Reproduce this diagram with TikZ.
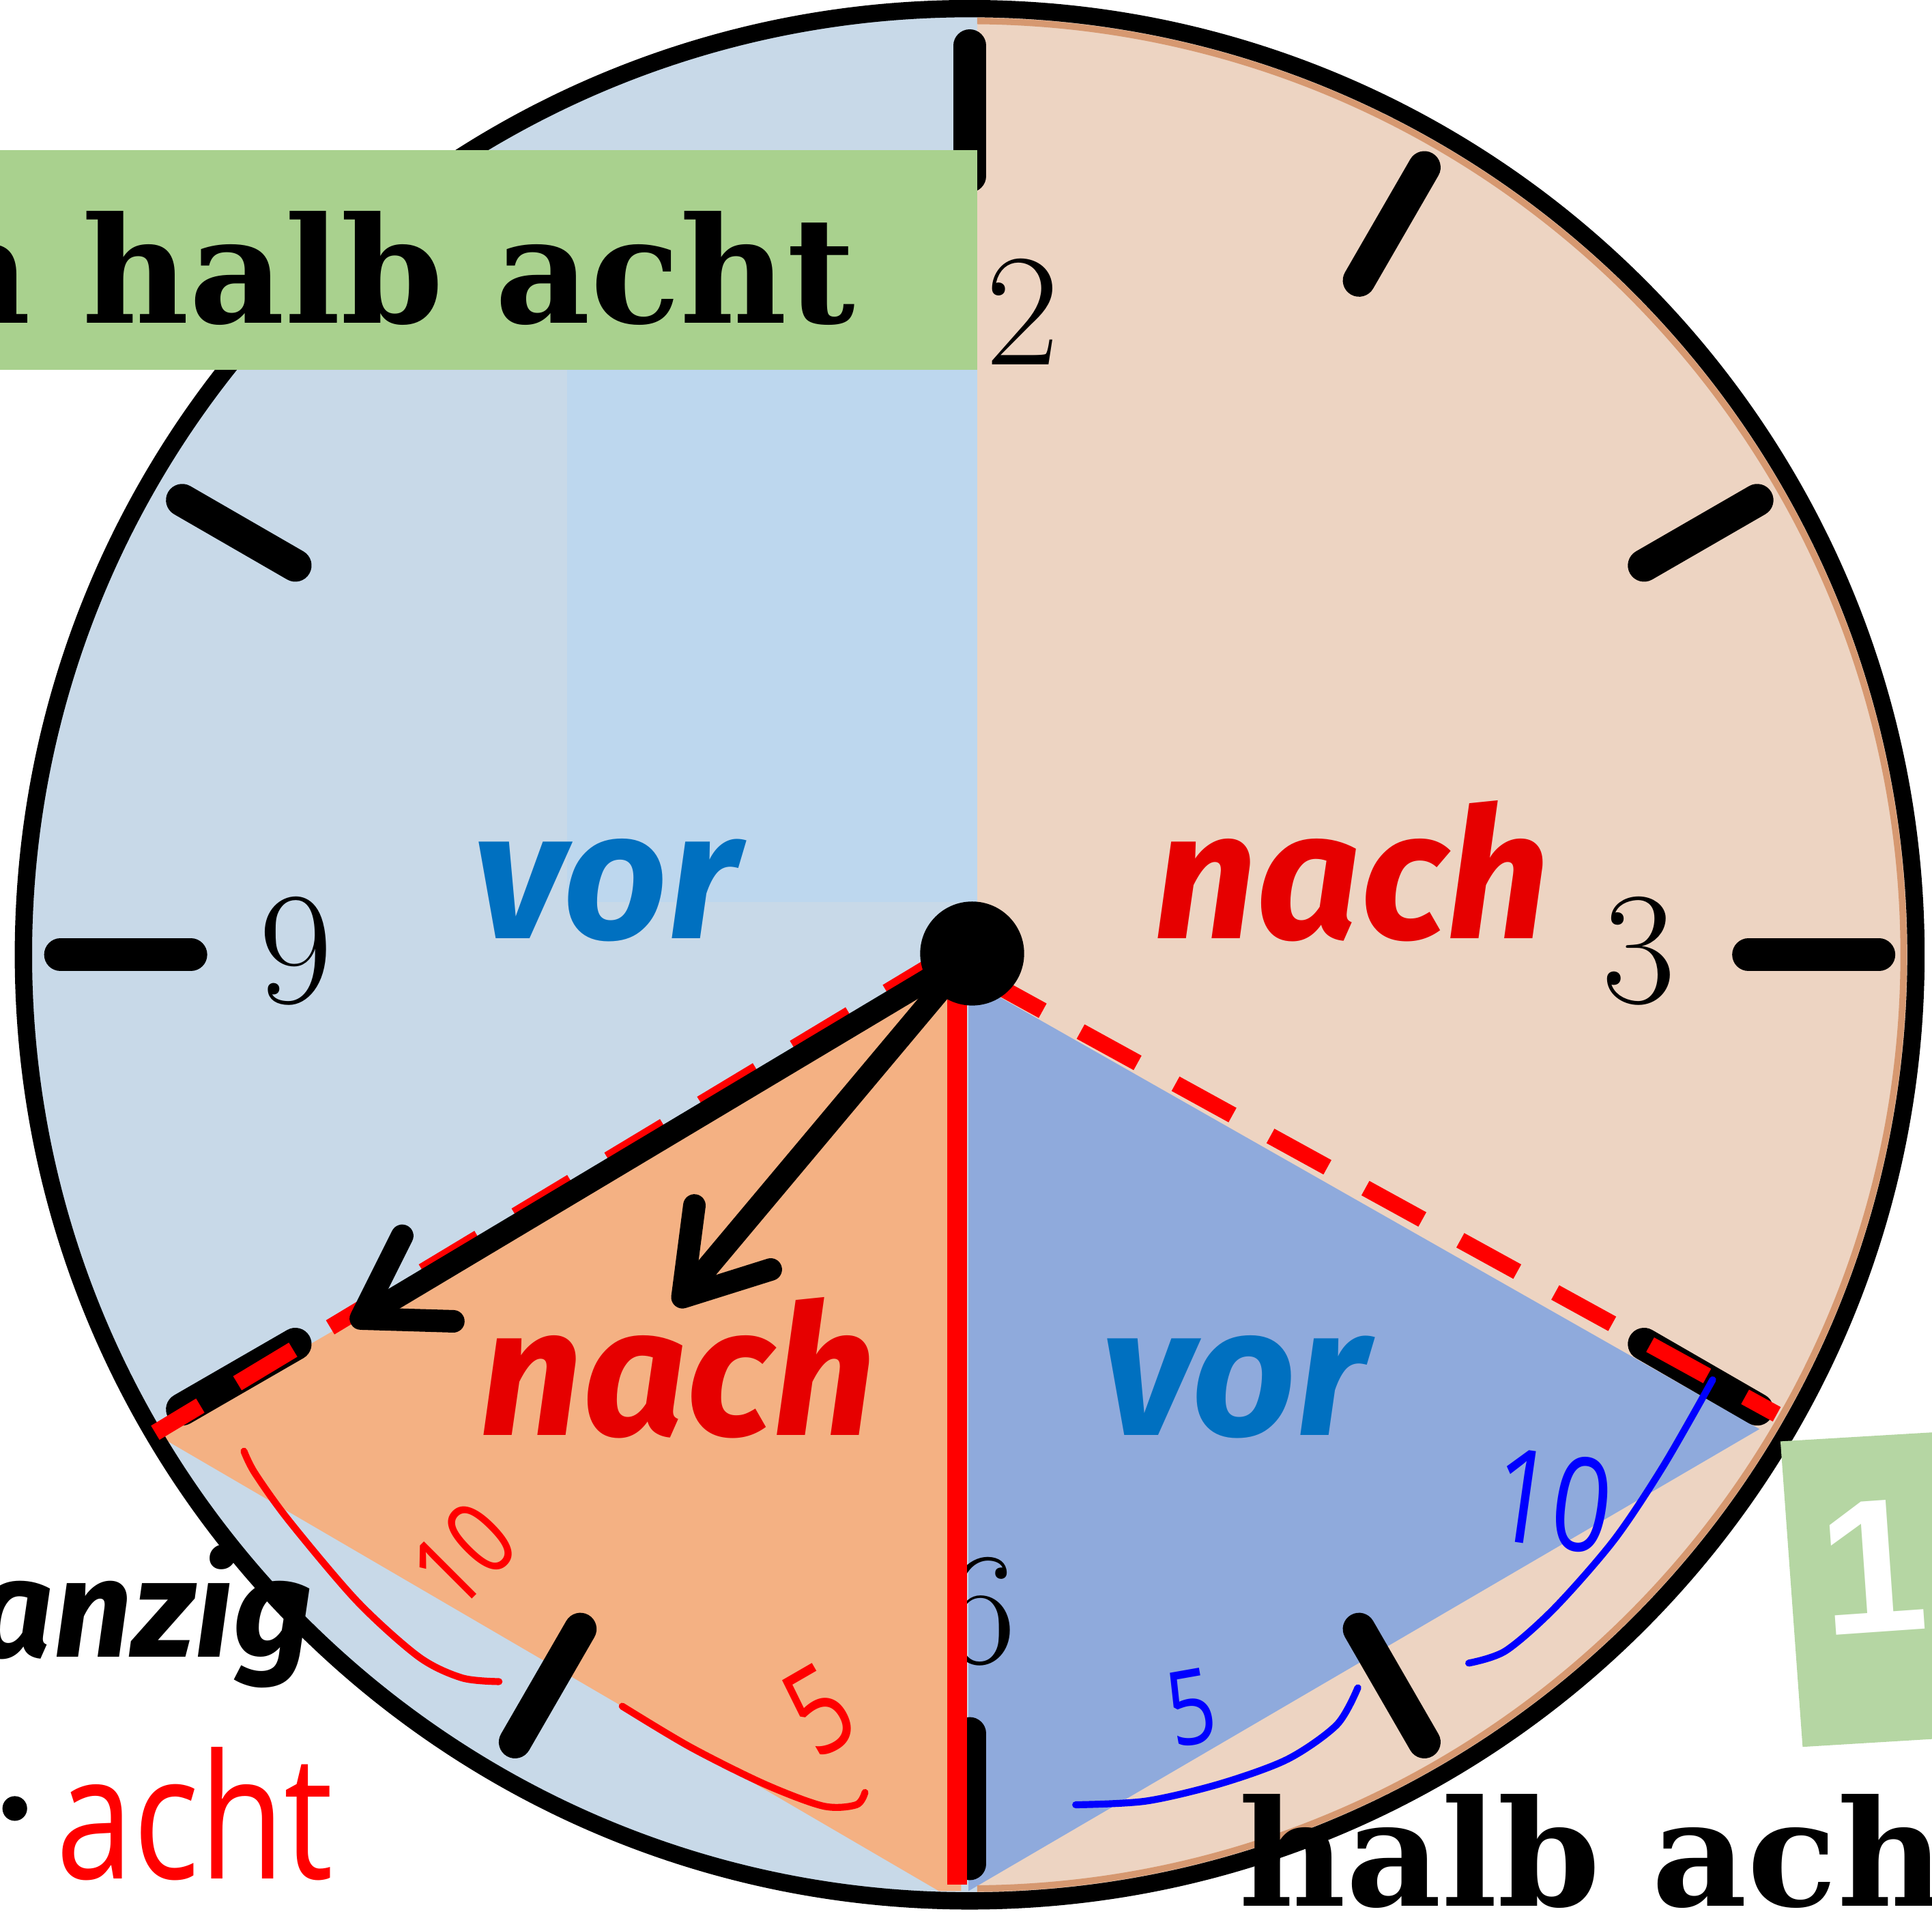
\documentclass[tikz,border=0pt]{standalone}
\usepackage{fontspec}
\usetikzlibrary{arrows.meta,calc}
\newfontfamily\bannerfont{DejaVu Serif}
\newfontfamily\wordfont{Fira Sans}
\newfontfamily\inkfont{Open Sans}[FakeStretch=0.8]
\newfontfamily\plainsans{Liberation Sans}
\definecolor{facepeach}{RGB}{237,212,194}
\definecolor{faceblue}{RGB}{200,217,232}
\definecolor{panelblue}{RGB}{189,215,238}
\definecolor{wedgeorange}{RGB}{244,177,131}
\definecolor{wedgeblue}{RGB}{143,170,220}
\definecolor{rimbrown}{RGB}{214,152,112}
\definecolor{bannergreen}{RGB}{169,209,142}
\definecolor{taggreen}{RGB}{181,214,163}
\definecolor{vorblue}{RGB}{0,112,192}
\definecolor{nachred}{RGB}{230,0,0}
\definecolor{clockred}{RGB}{255,0,0}
\definecolor{inkred}{RGB}{255,0,0}
\definecolor{inkblue}{RGB}{0,0,255}

\begin{document}
\begin{tikzpicture}[x=0.01cm, y=-0.01cm,
		hourmark/.style={line width=7.5pt, line cap=round},
		hand/.style={line width=5.2pt, line cap=round, -{Straight Barb[length=18pt,width=23pt,round]}},
		redline/.style={draw=clockred, line width=3.8pt, dash pattern=on 15pt off 10pt},
		digit/.style={font=\fontsize{37}{40}\selectfont, inner sep=0pt},
		word/.style={font=\wordfont\bfseries\itshape\fontsize{42}{46}\selectfont, inner sep=0pt, anchor=base},
		banner/.style={font=\bannerfont\bfseries\fontsize{34}{38}\selectfont, inner sep=0pt},
		ink/.style={line width=1.6pt, line cap=round, line join=round},
		inknum/.style={font=\inkfont\fontsize{24}{26}\selectfont, inner sep=0pt},
		]
		\useasboundingbox (0,0) rectangle (1568,1555);
		\clip (0,0) rectangle (1568,1555);
		\coordinate (ctr) at (787,775);
		
		% Clock face
		\fill[facepeach] (ctr) circle (768);
		\begin{scope}
			\clip (0,0) rectangle (793,1555);
			\fill[faceblue] (ctr) circle (768);
		\end{scope}
		\fill[panelblue] (460,300) rectangle (793,732);
		
		% Wedges
		\fill[wedgeorange] (780,785) -- (126,1164) -- (762,1535) -- (780,1535) -- cycle;
		\fill[wedgeblue] (786,795) -- (1428,1160) -- (786,1535) -- cycle;
		
		% Rim
		\begin{scope}
			\clip (793,0) rectangle (1568,1555);
			\draw[rimbrown, line width=1.5pt] (ctr) circle (758);
		\end{scope}
		\draw[line width=4pt] (ctr) circle (768);
		
		% Hour marks
		\foreach \a in {0,30,...,330}
			\draw[hourmark] ($(ctr)+(\a:632)$) -- ($(ctr)+(\a:738)$);
		
		% Numerals
		\node[digit] (n2) at (830,253) {2};
		\node[digit] (n3) at (1330,772) {3};
		\node[digit] (n6) at (795,1308) {6};
		\node[digit] (n9) at (240,772) {9};
		
		% Red guide lines
		\coordinate (ls) at (765,778);
		\coordinate (lft) at (126,1163);
		\coordinate (rs) at (800,795);
		\coordinate (rgt) at (1442,1148);
		\coordinate (vs) at (777,800);
		\coordinate (btm) at (777,1530);
		\draw[redline] (ls) -- (lft);
		\draw[redline] (rs) -- (rgt);
		\draw[clockred, line width=4.6pt] (vs) -- (btm);
		
		% Hands
		\coordinate (tipA) at (285,1075);
		\coordinate (tipB) at (548,1060);
		\draw[hand] (ctr) -- (tipA);
		\draw[hand] (ctr) -- (tipB);
		\node[circle, fill=black, inner sep=0pt, minimum size=24pt] (hub) at (789,774) {};
		
		% Labels
		\node[word, text=vorblue] (vorA) at (492,762) {vor};
		\node[word, text=nachred] (nachA) at (1097,762) {nach};
		\node[word, text=nachred] (nachB) at (550,1165) {nach};
		\node[word, text=vorblue] (vorB) at (1002,1165) {vor};
		
		% Handwriting
		\draw[ink, inkred] plot[smooth] coordinates {(198,1178) (207,1196) (235,1235) (290,1300) (340,1345) (375,1362) (405,1365)};
		\draw[ink, inkred] plot[smooth] coordinates {(505,1385) (560,1418) (620,1448) (668,1466) (695,1465) (702,1455)};
		\node[inknum, text=inkred, rotate=45] (r10) at (376,1262) {10};
		\node[inknum, text=inkred, rotate=30, font=\inkfont\fontsize{28}{30}\selectfont] (r5) at (665,1388) {5};
		\draw[ink, inkblue] plot[smooth] coordinates {(873,1465) (930,1462) (990,1448) (1045,1428) (1085,1400) (1102,1370)};
		\draw[ink, inkblue] plot[smooth] coordinates {(1192,1350) (1222,1340) (1262,1305) (1310,1250) (1350,1190) (1390,1120)};
		\node[inknum, text=inkblue, rotate=10] (b5) at (967,1386) {5};
		\node[inknum, text=inkblue, rotate=-8, font=\inkfont\fontsize{30}{32}\selectfont] (b10) at (1260,1218) {10};
		
		% Banner top
		\fill[bannergreen] (0,122) rectangle (793,300);
		\node[banner, anchor=base east] (toptext) at (695,262) {nach halb acht};
		
		% Tag bottom right
		\fill[taggreen] (1445,1170) -- (1580,1162) -- (1595,1410) -- (1463,1418) -- cycle;
		\node[font=\plainsans\bfseries\fontsize{44}{48}\selectfont, text=white, inner sep=0pt, rotate=4] (tagnum) at (1520,1272) {1};
		
		% Bottom texts
		\node[banner, anchor=base west] (btmtext) at (1005,1547) {halb acht};
		\node[font=\wordfont\bfseries\itshape\fontsize{32}{36}\selectfont, anchor=base east, inner sep=0pt] (zw) at (255,1345) {zwanzig};
		\node[circle, fill=black, inner sep=0pt, minimum size=5.7pt] (dot) at (12,1468) {};
		\node[font=\inkfont\fontsize{40}{44}\selectfont, text=inkred, anchor=base west, inner sep=0pt] (acht) at (45,1525) {acht};
	\end{tikzpicture}
\end{document}
